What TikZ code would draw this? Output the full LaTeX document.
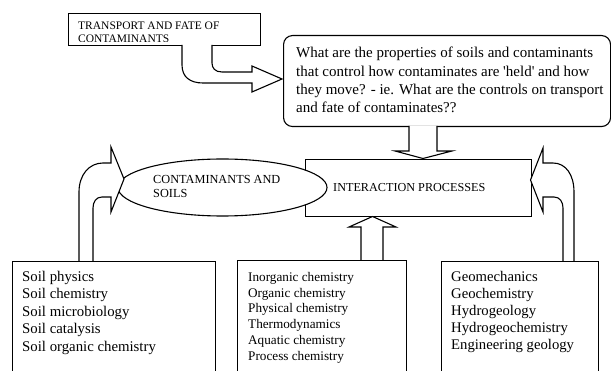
\documentclass[tikz,border=0pt]{standalone}
\usepackage{fontspec}
\setmainfont{Liberation Serif}[Ligatures=TeXOff]
\usetikzlibrary{shapes.geometric}
\tikzset{
  frame/.style={draw, line width=1.1pt, inner sep=0pt, anchor=north west, fill=white},
  txt/.style={anchor=north west, inner sep=0pt, align=left},
  blockarrow/.style={draw, line width=1.1pt, line join=miter, fill=white},
}
\newcommand\fsz[2]{\fontsize{#1}{#2}\selectfont}

\begin{document}
\begin{tikzpicture}[x=1pt,y=-1pt]
\useasboundingbox (0,0) rectangle (611,371);
\clip (0,0) rectangle (611,371);

% boxes
\node[frame, minimum width=192, minimum height=32] (tf) at (68,13) {};
\node[frame, rounded corners=9, minimum width=327, minimum height=91] (q) at (283,35) {};
\node[frame, minimum width=226, minimum height=57] (ip) at (305,159) {};
\node[draw, line width=1.1pt, fill=white, ellipse, inner sep=0pt,
      minimum width=209, minimum height=57] (cs) at (222.5,187.5) {};
\node[frame, minimum width=203, minimum height=130] (soil) at (12,261) {};
\node[frame, minimum width=169, minimum height=130] (chem) at (237,260) {};
\node[frame, minimum width=157, minimum height=130] (geo) at (441,261) {};

% texts
\begin{scope}
  \clip (68,13) rectangle (260,41.5);
  \node[txt, font=\fsz{11.5}{13.5}] (tft) at (78,21.5) {TRANSPORT AND FATE OF\\CONTAMINANTS};
\end{scope}
\node[txt, font=\fsz{15}{18.3}] (qt) at (296,47) {What are the properties of soils and contaminants\\
that control how contaminates are 'held' and how\\
they move? - ie. What are the controls on transport\\
and fate of contaminates??};
\node[txt, font=\fsz{12.3}{14}] (cst) at (153,175) {CONTAMINANTS AND\\SOILS};
\node[txt, font=\fsz{12.2}{14}] (ipt) at (333,183) {INTERACTION PROCESSES};
\node[txt, font=\fsz{14.8}{17.5}] (soilt) at (22,271) {Soil physics\\Soil chemistry\\Soil microbiology\\Soil catalysis\\Soil organic chemistry};
\node[txt, font=\fsz{13.2}{15.8}] (chemt) at (248,272) {Inorganic chemistry\\Organic chemistry\\Physical chemistry\\Thermodynamics\\Aquatic chemistry\\Process chemistry};
\node[txt, font=\fsz{14.7}{17}] (geot) at (451,271) {Geomechanics\\Geochemistry\\Hydrogeology\\Hydrogeochemistry\\Engineering geology};

% block arrows
\draw[blockarrow] (182,45) -- (182,65) .. controls (182,77) and (190,83) .. (203,83)
  -- (252,83) -- (252,92) -- (282,79) -- (252,66) -- (252,72) -- (222,72)
  .. controls (215,72) and (212,68) .. (212,63) -- (212,45);
\draw[blockarrow] (409,126) -- (409,151) -- (395,151) -- (423,158.5) -- (452,151) -- (437,151) -- (437,126);
\draw[blockarrow] (361,260) -- (361,227) -- (349,227) -- (372.5,216.5) -- (396,227) -- (383,227) -- (383,260);
\draw[blockarrow] (79,261) -- (79,192) .. controls (79,175) and (89,163) .. (103,163)
  -- (111,163) -- (111,147) -- (124,179) -- (111,212) -- (111,197) -- (102,197)
  .. controls (96,197) and (93,202) .. (93,208) -- (93,261);
\draw[blockarrow] (574,261) -- (574,192) .. controls (574,175) and (566,163) .. (553,163)
  -- (543,163) -- (543,148) -- (530.5,180) -- (543,212) -- (543,197) -- (554,197)
  .. controls (560,197) and (563,202) .. (563,208) -- (563,261);
\end{tikzpicture}
\end{document}
